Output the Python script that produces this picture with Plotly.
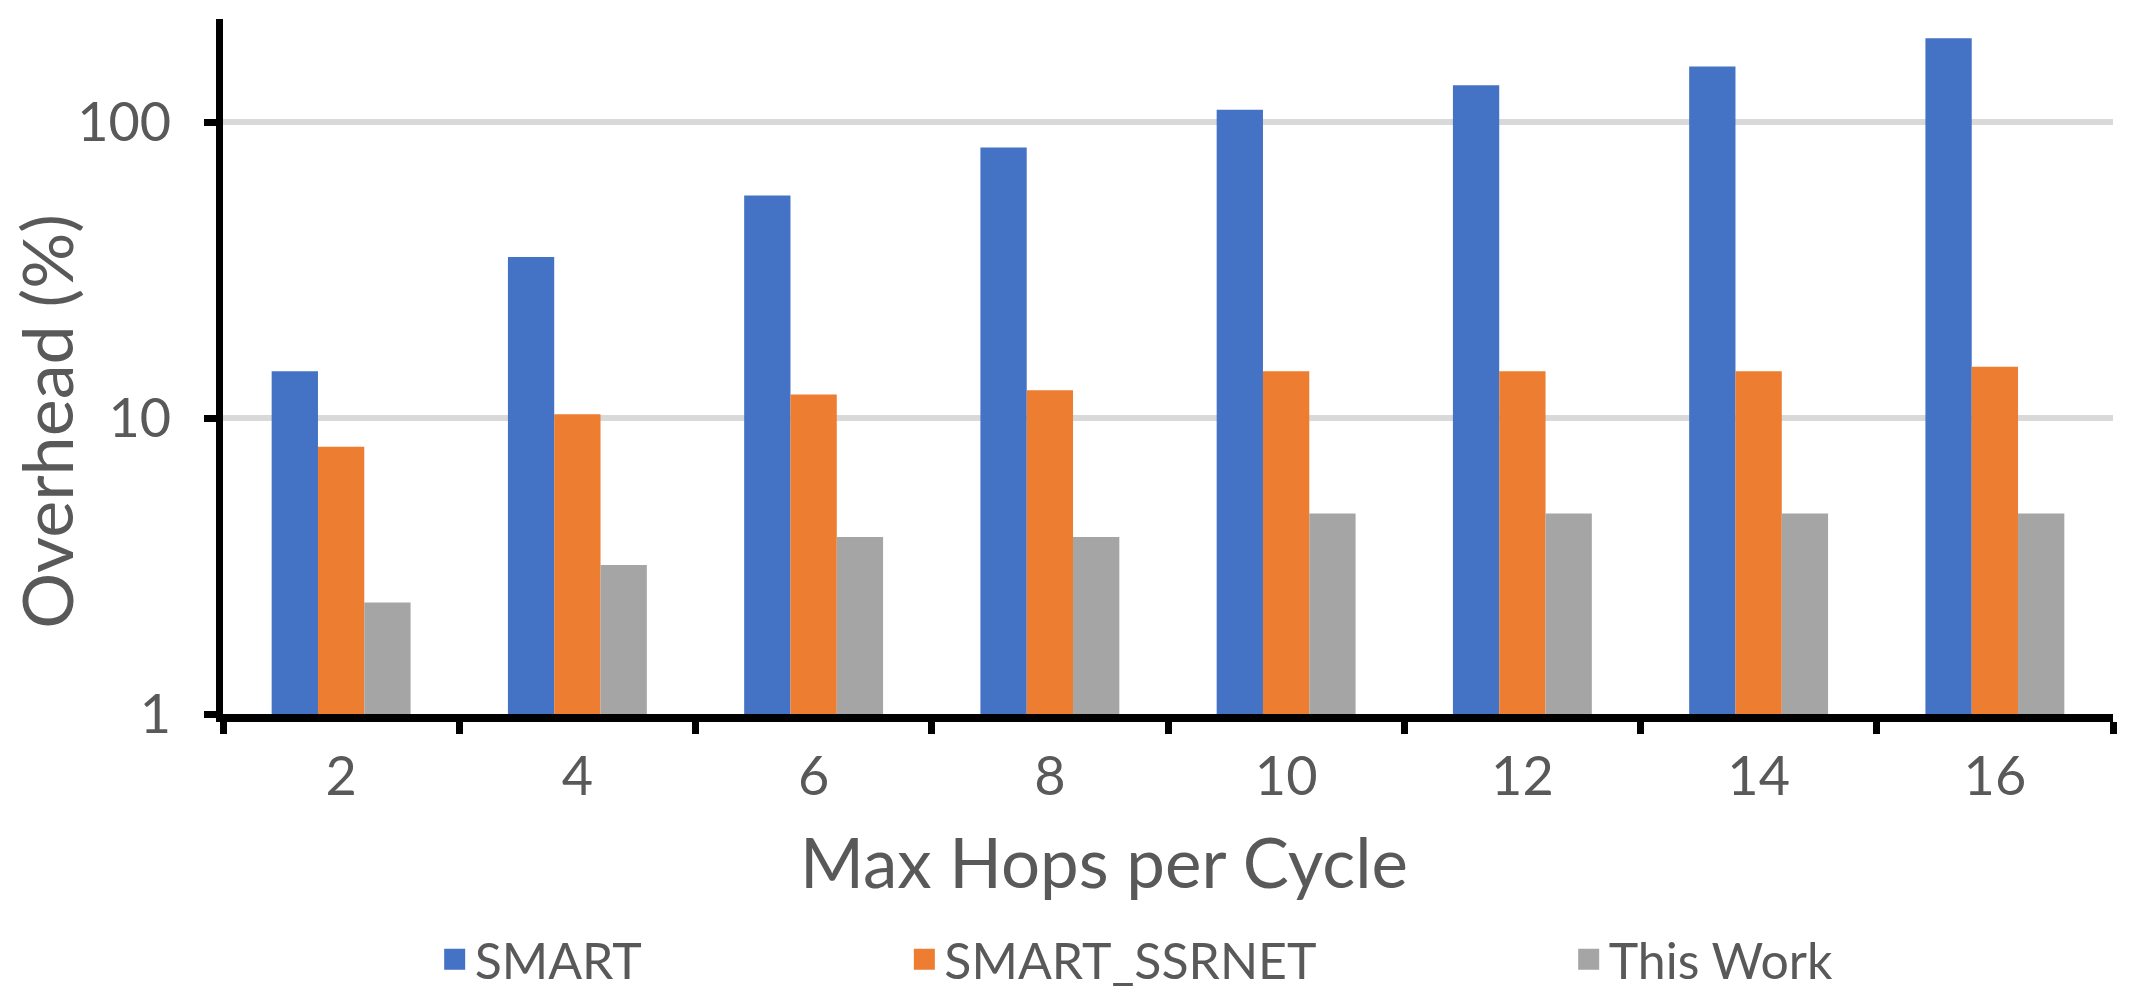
import plotly.graph_objects as go

categories = ["2", "4", "6", "8", "10", "12", "14", "16"]
smart = [14.4, 35, 56.5, 82, 110, 133, 154, 192]
smart_ssrnet = [8.0, 10.3, 12.0, 12.4, 14.4, 14.4, 14.4, 14.9]
this_work = [2.38, 3.19, 3.96, 3.96, 4.76, 4.76, 4.76, 4.76]
series_names = ["SMART", "SMART_SSRNET", "This Work"]
colors = ["#4472C4", "#ED7D31", "#A5A5A5"]
y_tickvals = [1, 10, 100]
y_ticktext = ["1", "10", "100"]
x_title = "Max Hops per Cycle"
y_title = "Overhead (%)"

FONT = "Lato"
GRAY = "#595959"

fig = go.Figure()
legend_ids = ["legend", "legend2", "legend3"]
for name, vals, col in zip(series_names, [smart, smart_ssrnet, this_work], colors):
    fig.add_trace(go.Bar(x=categories, y=vals, name=name,
                         marker=dict(color=col, line=dict(width=0)), showlegend=False))
# legend keys (no data, legend only)
for name, col, lg in zip(series_names, colors, legend_ids):
    fig.add_trace(go.Scatter(x=[None], y=[None], name=name, mode="markers",
                             marker=dict(symbol="square", size=16, color=col,
                                         line=dict(color=col, width=5)),
                             legend=lg, showlegend=True))

legend_common = dict(orientation="h", yanchor="middle", y=-0.353, xanchor="left",
                     font=dict(family=FONT, size=50, color=GRAY), bgcolor="rgba(0,0,0,0)",
                     borderwidth=0, itemsizing="trace")
fig.update_layout(
    width=2129, height=1002,
    margin=dict(l=223, r=16, t=19, b=288, autoexpand=False),
    paper_bgcolor="white", plot_bgcolor="white",
    showlegend=True,
    barmode="group", bargap=0.412, bargroupgap=0,
    font=dict(family=FONT, color=GRAY),
    legend=dict(x=0.1120, **legend_common),
    legend2=dict(x=0.3605, **legend_common),
    legend3=dict(x=0.712, **legend_common),
    xaxis=dict(
        type="category", showline=True, linecolor="black", linewidth=8,
        ticks="outside", tickson="boundaries", ticklen=12, tickwidth=7, tickcolor="black",
        tickfont=dict(family=FONT, size=54, color=GRAY), ticklabelstandoff=8,
        showgrid=False, zeroline=False, automargin=False,
    ),
    yaxis=dict(
        type="log", range=[0, 2.348], showline=True, linecolor="black", linewidth=7,
        tickvals=y_tickvals, ticktext=y_ticktext,
        ticks="outside", ticklen=12, tickwidth=7, tickcolor="black",
        tickfont=dict(family=FONT, size=54, color=GRAY), ticklabelstandoff=22,
        showgrid=True, gridcolor="#D9D9D9", gridwidth=6,
        zeroline=False, automargin=False,
    ),
    annotations=[
        dict(text=y_title, textangle=-90, xref="paper", yref="paper",
             x=-0.1170, y=0.4216, xanchor="left", yanchor="middle",
             showarrow=False, font=dict(family=FONT, size=70, color=GRAY)),
        dict(text=x_title, xref="paper", yref="paper",
             x=0.466, y=-0.2116, xanchor="center", yanchor="middle",
             showarrow=False, font=dict(family=FONT, size=69, color=GRAY)),
    ],
)

fig.write_html("out.html", config={"displayModeBar": False},
               post_script="document.body.style.margin='0';")
